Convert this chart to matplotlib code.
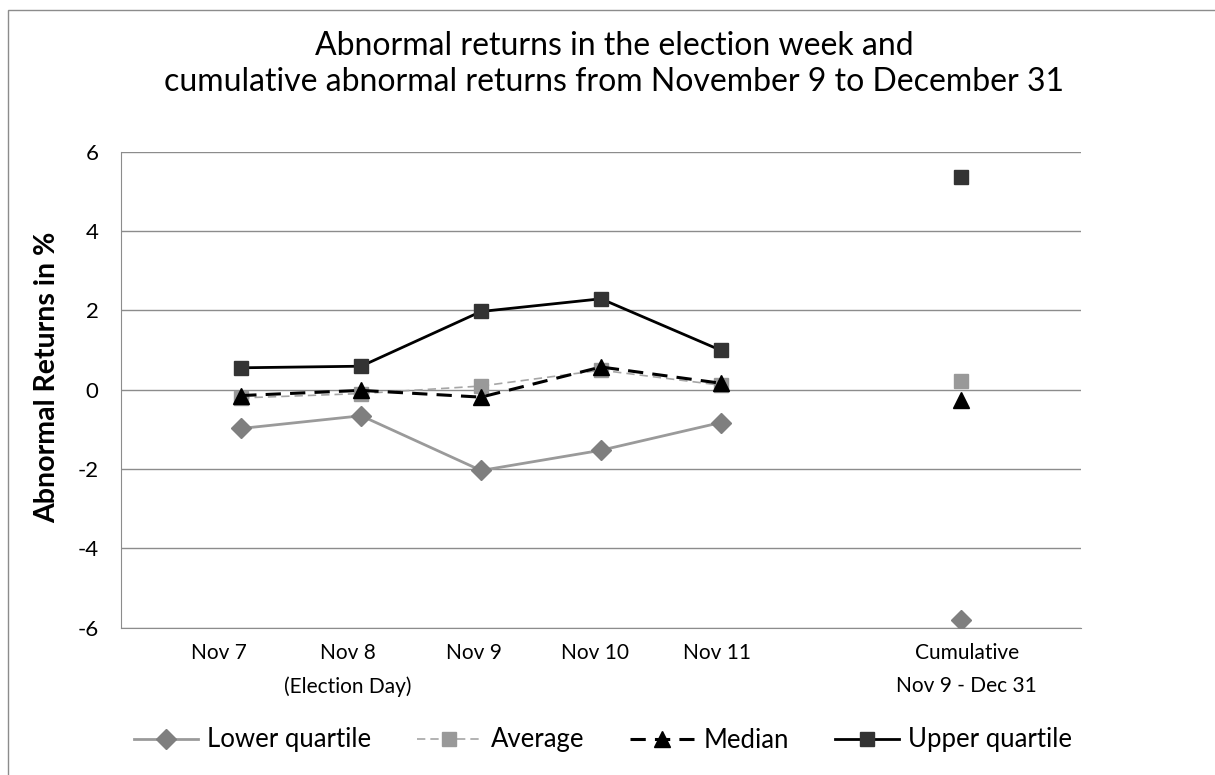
import numpy as np
import matplotlib
matplotlib.use("Agg")
import matplotlib.pyplot as plt
from matplotlib.patches import Rectangle

plt.rcParams['font.family'] = ['Lato', 'DejaVu Sans']

categories = ["Nov 7", "Nov 8\n(Election Day)", "Nov 9", "Nov 10", "Nov 11", "",
              "Cumulative\nNov 9 - Dec 31"]
nan = np.nan
lower_quartile = [-0.98, -0.66, -2.04, -1.53, -0.83, nan, -5.82]
average = [-0.21, -0.10, 0.09, 0.49, 0.11, nan, 0.22]
median = [-0.15, -0.02, -0.19, 0.57, 0.16, nan, -0.27]
upper_quartile = [0.55, 0.59, 1.97, 2.29, 0.99, nan, 5.36]
yticks = [-6, -4, -2, 0, 2, 4, 6]

W, H = 1215, 775
fig = plt.figure(figsize=(W / 100, H / 100), dpi=100)
ax = fig.add_axes([121.3 / W, 1 - 627.5 / H, 959.4 / W, 475.8 / H])

x = np.arange(1, len(categories) + 1)

ax.plot(x, lower_quartile, color='#9a9a9a', lw=2, marker='D', ms=10,
        mfc='#7f7f7f', mec='#7f7f7f', label='Lower quartile', zorder=3)
ax.plot(x, average, color='#a6a6a6', lw=1.2, ls=(0, (5, 3)), marker='s', ms=9.5,
        mfc='#999999', mec='#999999', label='Average', zorder=4)
ax.plot(x, median, color='black', lw=2.2, ls=(0, (5, 3)), marker='^', ms=11,
        mfc='black', mec='black', label='Median', zorder=5)
ax.plot(x, upper_quartile, color='black', lw=2, marker='s', ms=9.5,
        mfc='#333333', mec='#333333', label='Upper quartile', zorder=6)

ax.set_xlim(0, len(categories) + 1)
ax.set_ylim(-6, 6)
ax.set_yticks(yticks)
ax.set_yticklabels([str(v) for v in yticks], fontsize=16)
ax.yaxis.grid(True, color='#8c8c8c', lw=1)
ax.set_axisbelow(True)
ax.tick_params(axis='y', length=0, pad=16.5)

label_shift = [-0.19, -0.11, -0.06, -0.05, -0.03, 0.0, 0.05]
ax.set_xticks(x + np.array(label_shift))
ax.set_xticklabels(categories, fontsize=15)
for lbl in ax.get_xticklabels():
    lbl.set_linespacing(1.85)
ax.tick_params(axis='x', length=0, pad=11)

for s in ['top', 'right']:
    ax.spines[s].set_visible(False)
ax.spines['left'].set_color('#8c8c8c')
ax.spines['bottom'].set_color('#8c8c8c')

fig.text(47 / W, 1 - 377 / H, 'Abnormal Returns in %', rotation=90,
         ha='center', va='center', fontsize=20.5, fontweight='bold')

fig.text(614 / W, 1 - 64 / H,
         'Abnormal returns in the election week and\n'
         'cumulative abnormal returns from November 9 to December 31',
         ha='center', va='center', fontsize=23, linespacing=1.27)

fig.legend(loc='center', bbox_to_anchor=(603 / W, 1 - 740 / H), ncol=4,
           frameon=False, fontsize=18.5, handlelength=2.5, columnspacing=1.8,
           handletextpad=0.35)

fig.add_artist(Rectangle((8 / W, -0.1), 2, 1 - 10 / H + 0.1, transform=fig.transFigure,
                         fill=False, edgecolor='#8c8c8c', lw=1))

fig.savefig('out.png', dpi=100)
